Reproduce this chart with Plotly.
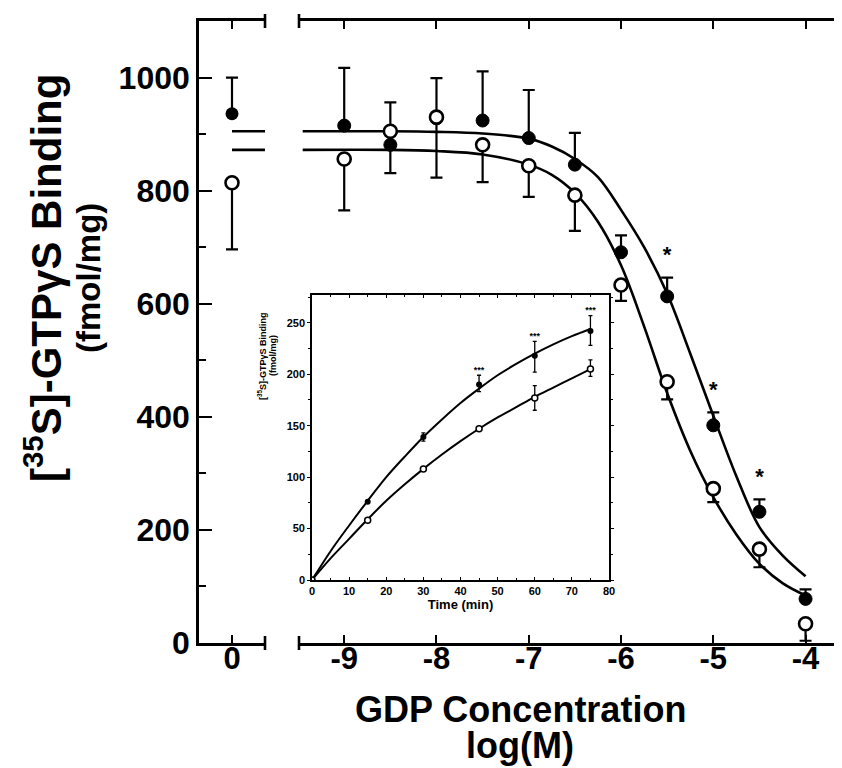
import plotly.graph_objects as go

# ---------------- data ----------------
# main panel: GDP concentration, log(M)
conc_log = [-9, -8.5, -8, -7.5, -7, -6.5, -6, -5.5, -5, -4.5, -4]
filled_vals = [915, 881, 928, 924, 893, 846, 691, 613, 385, 232, 78]
filled_err_up = [102, 0, 0, 87, 85, 56, 30, 33, 23, 22, 17]
filled_err_down = [0, 50, 105, 0, 0, 0, 0, 0, 0, 0, 0]
open_vals = [856, 905, 930, 881, 844, 792, 633, 462, 273, 166, 34]
open_err_up = [0, 51, 69, 0, 0, 0, 0, 0, 0, 0, 0]
open_err_down = [91, 0, 0, 66, 55, 63, 28, 31, 24, 32, 30]

# significance marks over filled points
star_x = [-5.5, -5, -4.5]

# fitted curves
curve_x = [-9.45, -8.5, -8, -7.5, -7, -6.75, -6.5, -6.25, -6, -5.75, -5.5,
           -5.25, -5, -4.75, -4.5, -4.25, -4.0]
curve_filled = [905, 905, 904, 901, 892, 878, 856, 824, 766, 700, 618,
                512, 402, 295, 205, 155, 118]
curve_open = [872, 872, 870, 864, 846, 828, 796, 745, 668, 560, 442,
              340, 258, 192, 140, 106, 84]

# control panel (no GDP, "0")
control_x = [0]
control_filled = [936]
control_filled_err = [64]
control_open = [814]
control_open_err = [118]
plateau_x = [0, 0.5]
plateau_filled = [905, 905]
plateau_open = [872, 872]

# inset: time course
time_min = [0, 15, 30, 45, 60, 75]
inset_filled = [0, 76, 139, 190, 218, 242]
inset_filled_up = [0, 0, 4, 9, 14, 15]
inset_filled_down = [0, 0, 4, 7, 16, 14]
inset_open = [0, 58, 108, 147, 177, 205]
inset_open_up = [0, 0, 0, 2, 12, 9]
inset_open_down = [0, 0, 0, 2, 12, 7]
inset_star_t = [45, 60, 75]

inset_curve_t = [0, 5, 10, 15, 20, 25, 30, 35, 40, 45, 50, 55, 60, 65, 70, 75]
inset_curve_filled = [0, 28, 53, 77, 100, 120, 139, 156, 172, 186, 199, 210,
                      220, 229, 237, 244]
inset_curve_open = [0, 21, 40, 59, 77, 93, 108, 122, 135, 147, 158, 168,
                    178, 187, 196, 205]

main_tickvals = [-9, -8, -7, -6, -5, -4]
main_ticktext = ["-9", "-8", "-7", "-6", "-5", "-4"]
y_tickvals = [0, 200, 400, 600, 800, 1000]
y_ticktext = ["0", "200", "400", "600", "800", "1000"]

# ---------------- figure ----------------
W, H = 842, 768
FONT = "Liberation Sans, Arial, Helvetica, sans-serif"
STAR_GAP = 18  # gap between error bar top and the asterisk (data units)


def px(p):
    return p / W


def py(p):
    return 1 - p / H


fig = go.Figure()

LW = 2.6
# curves
fig.add_trace(go.Scatter(x=curve_x, y=curve_filled, mode="lines",
                         line=dict(color="black", width=LW, shape="spline"),
                         xaxis="x2", yaxis="y2", hoverinfo="skip"))
fig.add_trace(go.Scatter(x=curve_x, y=curve_open, mode="lines",
                         line=dict(color="black", width=LW, shape="spline"),
                         xaxis="x2", yaxis="y2", hoverinfo="skip"))

# main points
fig.add_trace(go.Scatter(
    x=conc_log, y=filled_vals, mode="markers", xaxis="x2", yaxis="y2",
    marker=dict(symbol="circle", size=13, color="black",
                line=dict(color="black", width=1)),
    error_y=dict(type="data", symmetric=False, array=filled_err_up,
                 arrayminus=filled_err_down, color="black", thickness=2.2,
                 width=6)))
fig.add_trace(go.Scatter(
    x=conc_log, y=open_vals, mode="markers", xaxis="x2", yaxis="y2",
    marker=dict(symbol="circle", size=13, color="white",
                line=dict(color="black", width=2.6)),
    error_y=dict(type="data", symmetric=False, array=open_err_up,
                 arrayminus=open_err_down, color="black", thickness=2.2,
                 width=6)))

# asterisks
star_y = [filled_vals[conc_log.index(s)] + filled_err_up[conc_log.index(s)] + STAR_GAP
          for s in star_x]
fig.add_trace(go.Scatter(x=star_x, y=star_y, mode="text", text=["*"] * len(star_x),
                         textposition="top center",
                         textfont=dict(family=FONT, size=22, color="black",
                                       weight="bold"),
                         xaxis="x2", yaxis="y2", hoverinfo="skip"))

# control panel
fig.add_trace(go.Scatter(x=plateau_x, y=plateau_filled, mode="lines",
                         line=dict(color="black", width=LW),
                         xaxis="x", yaxis="y", hoverinfo="skip"))
fig.add_trace(go.Scatter(x=plateau_x, y=plateau_open, mode="lines",
                         line=dict(color="black", width=LW),
                         xaxis="x", yaxis="y", hoverinfo="skip"))
fig.add_trace(go.Scatter(
    x=control_x, y=control_filled, mode="markers", xaxis="x", yaxis="y",
    marker=dict(symbol="circle", size=13, color="black"),
    error_y=dict(type="data", symmetric=False, array=control_filled_err,
                 arrayminus=[0], color="black", thickness=2.2, width=6)))
fig.add_trace(go.Scatter(
    x=control_x, y=control_open, mode="markers", xaxis="x", yaxis="y",
    marker=dict(symbol="circle", size=13, color="white",
                line=dict(color="black", width=2.6)),
    error_y=dict(type="data", symmetric=False, array=[0],
                 arrayminus=control_open_err, color="black", thickness=2.2,
                 width=6)))

# inset
fig.add_trace(go.Scatter(x=inset_curve_t, y=inset_curve_filled, mode="lines",
                         line=dict(color="black", width=2, shape="spline"),
                         xaxis="x3", yaxis="y3", hoverinfo="skip"))
fig.add_trace(go.Scatter(x=inset_curve_t, y=inset_curve_open, mode="lines",
                         line=dict(color="black", width=2, shape="spline"),
                         xaxis="x3", yaxis="y3", hoverinfo="skip"))
fig.add_trace(go.Scatter(
    x=time_min, y=inset_filled, mode="markers", xaxis="x3", yaxis="y3",
    marker=dict(symbol="circle", size=6, color="black"),
    error_y=dict(type="data", symmetric=False, array=inset_filled_up,
                 arrayminus=inset_filled_down, color="black", thickness=1.3,
                 width=2)))
fig.add_trace(go.Scatter(
    x=time_min, y=inset_open, mode="markers", xaxis="x3", yaxis="y3",
    marker=dict(symbol="circle", size=6, color="white",
                line=dict(color="black", width=1.5)),
    error_y=dict(type="data", symmetric=False, array=inset_open_up,
                 arrayminus=inset_open_down, color="black", thickness=1.3,
                 width=2)))
inset_star_y = [inset_filled[time_min.index(t)] + inset_filled_up[time_min.index(t)]
                for t in inset_star_t]
fig.add_trace(go.Scatter(x=inset_star_t, y=inset_star_y, mode="text",
                         text=["***"] * len(inset_star_t),
                         textposition="top center",
                         textfont=dict(family=FONT, size=9, color="black",
                                       weight="bold"),
                         xaxis="x3", yaxis="y3", hoverinfo="skip"))

# ---------------- axes ----------------
YR = [0, 1100]
y_dom = [py(635), py(13)]
tickfont_big = dict(family=FONT, size=31, color="black", weight="bold")
axis_common = dict(showgrid=False, zeroline=False, linecolor="black",
                   linewidth=2.6, tickcolor="black", automargin=False)

fig.update_layout(
    width=W, height=H,
    margin=dict(l=0, r=0, t=0, b=0),
    paper_bgcolor="white", plot_bgcolor="white",
    showlegend=False,
    font=dict(family=FONT, color="black"),
    xaxis=dict(domain=[px(191), px(257)], range=[-0.5, 0.5], anchor="y",
               showline=True, mirror="ticks", ticks="inside", ticklen=8,
               tickwidth=2, tickvals=[0], ticktext=["0"],
               ticklabelstandoff=-14,
               tickfont=tickfont_big, **axis_common),
    yaxis=dict(domain=y_dom, range=YR, anchor="x", side="left",
               showline=True, ticks="inside", ticklen=13, tickwidth=2.2,
               tickvals=y_tickvals, ticktext=y_ticktext,
               tickfont=dict(family=FONT, size=32, color="black", weight="bold"),
               minor=dict(dtick=100, tick0=0, ticks="inside", ticklen=7,
                          tickwidth=2, tickcolor="black"),
               **axis_common),
    xaxis2=dict(domain=[px(291), px(840)], range=[-9.49, -3.54], anchor="y2",
                showline=True, mirror="ticks", ticks="inside", ticklen=8,
                tickwidth=2, tickvals=main_tickvals, ticktext=main_ticktext,
                ticklabelstandoff=-14,
                tickfont=tickfont_big, **axis_common),
    yaxis2=dict(domain=y_dom, range=YR, anchor="x2", side="right",
                showline=True, ticks="inside", ticklen=12, tickwidth=2.2,
                tickvals=y_tickvals, showticklabels=False,
                minor=dict(dtick=100, tick0=0, ticks="inside", ticklen=6,
                           tickwidth=2, tickcolor="black"),
                **axis_common),
    xaxis3=dict(domain=[px(304), px(601)], range=[0, 80], anchor="y3",
                showline=True, mirror="ticks", ticks="inside", ticklen=3,
                tickwidth=1.2, dtick=10, tick0=0,
                tickfont=dict(family=FONT, size=11, color="black", weight="bold"),
                title=dict(text="Time (min)", standoff=4,
                           font=dict(family=FONT, size=13, color="black",
                                     weight="bold")),
                minor=dict(dtick=5, ticks="inside", ticklen=2, tickcolor="black"),
                showgrid=False, zeroline=False, linecolor="black",
                linewidth=1.6, tickcolor="black", automargin=False),
    yaxis3=dict(domain=[py(572), py(287)], range=[0, 277], anchor="x3",
                showline=True, mirror="ticks", ticks="outside", ticklen=3,
                tickwidth=1.2, dtick=50, tick0=0,
                tickfont=dict(family=FONT, size=11, color="black", weight="bold"),
                minor=dict(dtick=25, ticks="outside", ticklen=2, tickcolor="black"),
                showgrid=False, zeroline=False, linecolor="black",
                linewidth=1.6, tickcolor="black", automargin=False),
)

# axis break end caps
caps = []
for xp in (257, 291):
    for yp in (13, 635):
        caps.append(dict(type="line", xref="paper", yref="paper",
                         x0=px(xp), x1=px(xp), y0=py(yp - 7), y1=py(yp + 7),
                         line=dict(color="black", width=2.6)))
fig.update_layout(shapes=caps)

# titles
ann = dict(xref="paper", yref="paper", showarrow=False,
           xanchor="center", yanchor="middle")
fig.add_annotation(x=px(35), y=py(270), textangle=-90,
                   text="<b>[<sup>35</sup>S]-GTPγS Binding</b>",
                   font=dict(family=FONT, size=42, color="black"), **ann)
fig.add_annotation(x=px(80), y=py(270), textangle=-90,
                   text="<b>(fmol/mg)</b>",
                   font=dict(family=FONT, size=33, color="black"), **ann)
fig.add_annotation(x=px(512), y=py(701), text="<b>GDP Concentration</b>",
                   font=dict(family=FONT, size=36, color="black"), **ann)
fig.add_annotation(x=px(512), y=py(737), text="<b>log(M)</b>",
                   font=dict(family=FONT, size=36, color="black"), **ann)
fig.add_annotation(x=px(254), y=py(348), textangle=-90,
                   text="<b>[<sup>35</sup>S]-GTPγS Binding</b>",
                   font=dict(family=FONT, size=9, color="black"), **ann)
fig.add_annotation(x=px(265), y=py(348), textangle=-90,
                   text="<b>(fmol/mg)</b>",
                   font=dict(family=FONT, size=9, color="black"), **ann)

fig.write_html("out.html")
